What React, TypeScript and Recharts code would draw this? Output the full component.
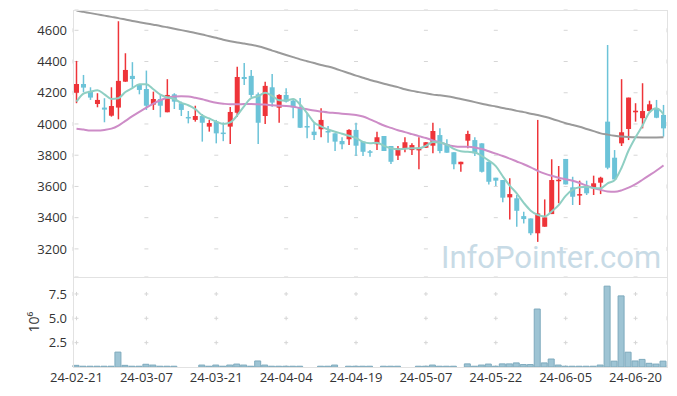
import React from "react";
import { ComposedChart, Bar, Line, XAxis, YAxis, CartesianGrid } from "recharts";

const DATES = [
  "24-02-21", "24-02-22", "24-02-23", "24-02-26", "24-02-27", "24-02-28", "24-02-29",
  "24-03-04", "24-03-05", "24-03-06", "24-03-07", "24-03-08", "24-03-11", "24-03-12", "24-03-13", "24-03-14", "24-03-15",
  "24-03-18", "24-03-19", "24-03-20", "24-03-21", "24-03-22", "24-03-25", "24-03-26", "24-03-27", "24-03-28", "24-03-29",
  "24-04-01", "24-04-02", "24-04-03", "24-04-04", "24-04-05", "24-04-08", "24-04-09", "24-04-11", "24-04-12",
  "24-04-15", "24-04-16", "24-04-17", "24-04-18", "24-04-19", "24-04-22", "24-04-23", "24-04-24", "24-04-25", "24-04-26",
  "24-04-29", "24-04-30", "24-05-02", "24-05-03", "24-05-07", "24-05-08", "24-05-09", "24-05-10", "24-05-13", "24-05-14",
  "24-05-16", "24-05-17", "24-05-20", "24-05-21", "24-05-22", "24-05-23", "24-05-24", "24-05-27", "24-05-28", "24-05-29",
  "24-05-30", "24-05-31", "24-06-03", "24-06-04", "24-06-05", "24-06-07", "24-06-10", "24-06-11", "24-06-12", "24-06-13",
  "24-06-14", "24-06-17", "24-06-18", "24-06-19", "24-06-20", "24-06-21", "24-06-24", "24-06-25", "24-06-26",
];

const OPEN = [
  4200, 4256, 4212, 4128, 4105, 4053, 4105, 4271, 4308, 4256,
  4224, 4124, 4160, 4075, 4190, 4133, 4045, 4026, 4051, 3983,
  4015, 3945, 3983, 4072, 4301, 4308, 4190, 4051, 4235, 4104,
  4186, 4149, 4107, 3987, 3951, 3966, 3955, 3940, 3891, 3902,
  3962, 3887, 3825, 3870, 3923, 3859, 3797, 3840, 3833, 3831,
  3848, 3861, 3929, 3872, 3819, 3742, 3893, 3897, 3876, 3758,
  3656, 3641, 3530, 3524, 3410, 3395, 3300, 3342, 3423, 3637,
  3776, 3594, 3543, 3598, 3592, 3624, 4015, 3784, 3876, 3968,
  4075, 4037, 4083, 4101, 4058,
];
const HIGH = [
  4404, 4314, 4235, 4197, 4165, 4235, 4658, 4453, 4396, 4256,
  4342, 4207, 4190, 4287, 4197, 4143, 4083, 4117, 4064, 4026,
  4026, 4010, 4109, 4367, 4391, 4346, 4201, 4271, 4320, 4190,
  4229, 4154, 4167, 4072, 4004, 4101, 3987, 3940, 3915, 3966,
  4008, 3887, 3833, 3951, 3923, 3859, 3859, 3915, 3876, 3915,
  3885, 4008, 3972, 3902, 3819, 3758, 3957, 3915, 3876, 3758,
  3656, 3641, 3652, 3545, 3438, 3395, 4026, 3517, 3774, 3731,
  3776, 3662, 3637, 3637, 3669, 3662, 4506, 3833, 4287, 4169,
  4133, 4261, 4149, 4154, 4122,
];
const LOW = [
  4133, 4203, 4154, 4107, 4011, 4047, 4030, 4270, 4233, 4190,
  4090, 4090, 4043, 4075, 4096, 4051, 4004, 4015, 3887, 3951,
  3876, 3890, 3872, 4047, 4250, 4173, 3872, 4000, 4111, 4008,
  4137, 4037, 3974, 3908, 3897, 3915, 3880, 3827, 3838, 3865,
  3795, 3795, 3790, 3833, 3827, 3744, 3769, 3819, 3801, 3710,
  3846, 3812, 3812, 3816, 3710, 3694, 3844, 3795, 3690, 3613,
  3603, 3498, 3389, 3342, 3363, 3288, 3245, 3342, 3423, 3492,
  3613, 3481, 3481, 3545, 3545, 3551, 3710, 3645, 3859, 3897,
  4015, 3972, 4072, 4037, 3919,
];
const CLOSE = [
  4256, 4233, 4169, 4154, 4092, 4115, 4276, 4346, 4288, 4218,
  4117, 4160, 4117, 4186, 4143, 4090, 4040, 4051, 4008, 4006,
  3940, 3938, 4077, 4301, 4288, 4186, 4008, 4244, 4137, 4186,
  4143, 4107, 3976, 3981, 3929, 4026, 3949, 3887, 3870, 3962,
  3861, 3822, 3820, 3915, 3827, 3758, 3844, 3883, 3865, 3848,
  3883, 3955, 3827, 3816, 3742, 3758, 3936, 3812, 3694, 3630,
  3637, 3528, 3551, 3444, 3391, 3300, 3427, 3402, 3641, 3643,
  3613, 3534, 3551, 3556, 3620, 3656, 3720, 3645, 3947, 4169,
  4085, 4083, 4126, 4040, 3972,
];

// moving averages
const MA_SHORT = [
  4143, 4195, 4207, 4216, 4190, 4160, 4165, 4205, 4230, 4255,
  4255, 4222, 4188, 4170, 4160, 4135, 4120, 4095, 4055, 4035,
  4015, 4000, 4010, 4055, 4115, 4165, 4178, 4200, 4180, 4152,
  4150, 4160, 4125, 4070, 4010, 3985, 3965, 3950, 3938, 3925,
  3910, 3885, 3876, 3880, 3860, 3845, 3838, 3842, 3844, 3844,
  3860, 3885, 3882, 3868, 3840, 3825, 3822, 3818, 3795, 3765,
  3730, 3665, 3605, 3555, 3495, 3445, 3418, 3408, 3440, 3480,
  3540, 3580, 3595, 3598, 3590, 3588, 3620, 3640, 3720, 3830,
  3915, 3990, 4075, 4100, 4062,
];
const MA_MID = [
  3970, 3964, 3958, 3958, 3962, 3970, 3990, 4020, 4050, 4078,
  4105, 4130, 4152, 4168, 4176, 4178, 4176, 4168, 4158, 4146,
  4136, 4130, 4126, 4126, 4128, 4128, 4126, 4124, 4120, 4117,
  4115, 4110, 4102, 4094, 4086, 4080, 4074, 4070, 4066, 4062,
  4058, 4048, 4030, 4010, 3990, 3975, 3960, 3948, 3935, 3922,
  3910, 3895, 3882, 3868, 3858, 3854, 3854, 3850, 3840, 3825,
  3810, 3795, 3778, 3760, 3742, 3722, 3700, 3682, 3668, 3656,
  3646, 3636, 3622, 3604, 3590, 3578, 3568, 3566, 3575, 3592,
  3615, 3643, 3672, 3702, 3735,
];
const MA_LONG = [
  4726, 4718, 4710, 4702, 4694, 4686, 4678, 4669, 4660, 4652,
  4644, 4636, 4628, 4619, 4610, 4601, 4592, 4583, 4573, 4562,
  4552, 4540, 4530, 4522, 4515, 4508, 4498, 4485, 4470, 4456,
  4442, 4428, 4414, 4402, 4390, 4378, 4368, 4355, 4340, 4325,
  4310, 4296, 4282, 4270, 4258, 4246, 4236, 4222, 4212, 4204,
  4196, 4188, 4184, 4178, 4170, 4160, 4150, 4140, 4130, 4120,
  4112, 4102, 4094, 4084, 4076, 4066, 4057, 4046, 4034, 4020,
  4005, 3994, 3982, 3968, 3954, 3940, 3932, 3925, 3920, 3917,
  3915, 3914, 3914, 3914, 3915,
];

// volume, millions of shares
const VOLUME = [
  0.17, 0.08, 0.08, 0.08, 0.08, 0.08, 1.53, 0.17, 0.08, 0.08,
  0.28, 0.2, 0.08, 0.08, 0.08, 0, 0, 0, 0.2, 0.08,
  0.2, 0.08, 0.2, 0.3, 0.2, 0.08, 0.62, 0.2, 0.08, 0.08,
  0.08, 0.08, 0.08, 0, 0, 0.08, 0.08, 0.2, 0, 0.08,
  0.08, 0.08, 0.08, 0, 0.08, 0.08, 0.08, 0, 0, 0.08,
  0.08, 0.2, 0.08, 0.08, 0.08, 0, 0.32, 0.08, 0.2, 0.3,
  0.08, 0.32, 0.32, 0.42, 0.25, 0.25, 5.95, 0.42, 0.82, 0.2,
  0.08, 0.08, 0.08, 0.08, 0.08, 0.2, 8.3, 0.6, 7.3, 1.52,
  0.62, 0.78, 0.38, 0.3, 0.6,
];

const TICK_DATES = ["24-02-21", "24-03-07", "24-03-21", "24-04-04", "24-04-19", "24-05-07", "24-05-22", "24-06-05", "24-06-20"];
const PRICE_TICKS = [3200, 3400, 3600, 3800, 4000, 4200, 4400, 4600];
const VOLUME_TICKS = [2.5, 5, 7.5];

const data = DATES.map((d, i) => ({
  d,
  o: OPEN[i],
  h: HIGH[i],
  l: LOW[i],
  c: CLOSE[i],
  range: [LOW[i], HIGH[i]],
  maShort: MA_SHORT[i],
  maMid: MA_MID[i],
  maLong: MA_LONG[i],
  v: VOLUME[i],
}));

const W = 677;
const LEFT = 73;
const RIGHT = 10;
const TOP = 10;
const MAIN_H = 277;
const VOL_H = 119;
const VOL_PLOT_H = 90;
const PRICE_DOMAIN = [3020, 4730];
const VOL_DOMAIN = [0, 9.24];

const UP = "#ee3439";
const DOWN = "#6cc3d8";
const GRID = "#d6d6d6";
const FRAME = "#e2e2e2";
const TEXT = "#333";
const FONT = '"Open Sans", sans-serif';

// grid is drawn as small "+" marks: dashed lines whose dashes sit on the crossings
const ARM = 4;
const band = (W - LEFT - RIGHT) / DATES.length;
const mainPlotH = MAIN_H - TOP;
const priceSpan = PRICE_DOMAIN[1] - PRICE_DOMAIN[0];

const dashed = (period: number, first: number) => (props: any) => {
  const { x1, y1, x2, y2 } = props;
  return (
    <line
      key={`g-${x1}-${y1}-${x2}-${y2}`}
      x1={x1}
      y1={y1}
      x2={x2}
      y2={y2}
      stroke={GRID}
      strokeWidth={1}
      strokeDasharray={`${ARM} ${period - ARM}`}
      strokeDashoffset={-(first - ARM / 2)}
    />
  );
};

const Candle = (props: any) => {
  const { x, y, width, height, payload } = props;
  const { o, c, h, l } = payload;
  const color = c >= o ? UP : DOWN;
  const k = h === l ? 0 : height / (h - l);
  const top = y + (h - Math.max(o, c)) * k;
  const bodyH = Math.max(Math.abs(o - c) * k, 1.5);
  const cx = x + width / 2;
  return (
    <g>
      <line x1={cx} x2={cx} y1={y} y2={y + height} stroke={color} strokeWidth={1.5} />
      <rect x={x} y={top} width={width} height={bodyH} fill={color} />
    </g>
  );
};

export default function App() {
  const tick = { fill: TEXT, fontSize: 13, fontFamily: FONT };
  return (
    <div style={{ position: "absolute", left: 0, top: 0, width: W, height: 396, background: "#fff", fontFamily: FONT }}>
      <svg width={W} height={396} style={{ position: "absolute", left: 0, top: 0 }}>
        <text x={441} y={268} fill="#c8dbe6" fontSize={31} fontFamily="Roboto, sans-serif">
          InfoPointer.com
        </text>
      </svg>

      <div style={{ position: "absolute", left: 0, top: 0 }}>
        <ComposedChart width={W} height={MAIN_H} data={data} margin={{ top: TOP, right: RIGHT, bottom: 0, left: 0 }}>
          <CartesianGrid
            horizontal={dashed(band * 10, band / 2)}
            vertical={dashed((200 / priceSpan) * mainPlotH, ((PRICE_DOMAIN[1] - 4600) / priceSpan) * mainPlotH)}
          />
          <XAxis dataKey="d" ticks={TICK_DATES} height={0} tick={false} axisLine={false} tickLine={false} />
          <YAxis
            type="number"
            domain={PRICE_DOMAIN}
            ticks={PRICE_TICKS}
            allowDataOverflow
            width={LEFT}
            axisLine={false}
            tickLine={false}
            tickMargin={0}
            tick={tick}
          />
          <Line dataKey="maLong" stroke="#9a9a9a" strokeWidth={2} dot={false} type="monotone" isAnimationActive={false} />
          <Line dataKey="maMid" stroke="#cd8cc7" strokeWidth={2} dot={false} type="monotone" isAnimationActive={false} />
          <Line dataKey="maShort" stroke="#8fcfc3" strokeWidth={2} dot={false} type="monotone" isAnimationActive={false} />
          <Bar dataKey="range" barSize={5} shape={Candle} isAnimationActive={false} />
        </ComposedChart>
      </div>

      <div style={{ position: "absolute", left: 0, top: MAIN_H }}>
        <ComposedChart width={W} height={VOL_H} data={data} margin={{ top: 0, right: RIGHT, bottom: 0, left: 0 }}>
          <CartesianGrid
            horizontal={dashed(band * 10, band / 2)}
            vertical={dashed((2.5 / VOL_DOMAIN[1]) * VOL_PLOT_H, ((VOL_DOMAIN[1] - 7.5) / VOL_DOMAIN[1]) * VOL_PLOT_H)}
          />
          <XAxis
            dataKey="d"
            ticks={TICK_DATES}
            interval={0}
            height={VOL_H - VOL_PLOT_H}
            axisLine={false}
            tickLine={false}
            tickSize={6}
            tickMargin={0}
            tick={tick}
          />
          <YAxis
            type="number"
            domain={VOL_DOMAIN}
            ticks={VOLUME_TICKS}
            allowDataOverflow
            width={LEFT}
            axisLine={false}
            tickLine={false}
            tickMargin={0}
            tick={tick}
            tickFormatter={(v: number) => v.toFixed(1)}
            label={{
              content: (p: any) => (
                <text
                  x={33}
                  y={p.viewBox.y + p.viewBox.height / 2}
                  transform={`rotate(-90 33 ${p.viewBox.y + p.viewBox.height / 2})`}
                  textAnchor="middle"
                  dominantBaseline="central"
                  fill={TEXT}
                  fontSize={14}
                  fontFamily={FONT}
                >
                  10⁶
                </text>
              ),
            }}
          />
          <Bar dataKey="v" barSize={6} fill="#9ec4d4" stroke="#7eaabd" strokeWidth={1} isAnimationActive={false} />
        </ComposedChart>
      </div>

      <div
        style={{
          position: "absolute",
          left: LEFT,
          top: TOP,
          width: W - LEFT - RIGHT + 1,
          height: MAIN_H + VOL_PLOT_H - TOP + 1,
          border: `1px solid ${FRAME}`,
          boxSizing: "border-box",
          pointerEvents: "none",
        }}
      />
      <div
        style={{
          position: "absolute",
          left: LEFT,
          top: MAIN_H,
          width: W - LEFT - RIGHT + 1,
          height: 1,
          background: FRAME,
          pointerEvents: "none",
        }}
      />
    </div>
  );
}
